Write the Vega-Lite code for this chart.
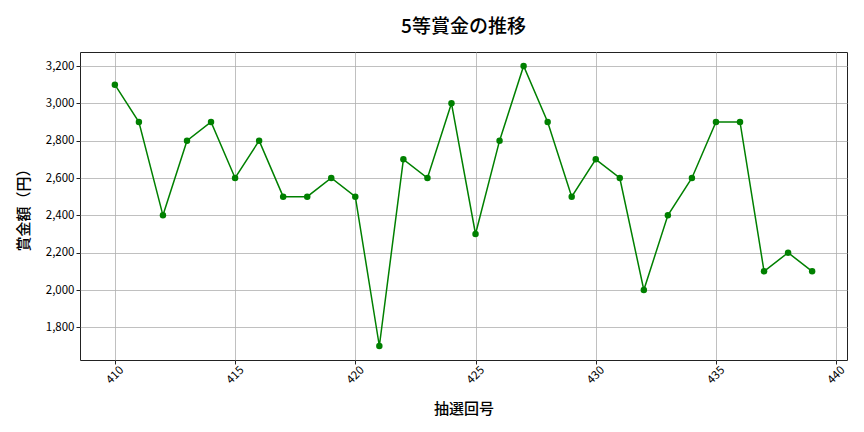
{
  "$schema": "https://vega.github.io/schema/vega-lite/v6.json",
  "description": "5等賞金の推移",
  "width": 767,
  "height": 308,
  "autosize": {"type": "none"},
  "padding": {"left": 80, "top": 52, "right": 17, "bottom": 72},
  "background": "white",
  "title": {
    "text": "5等賞金の推移",
    "fontSize": 19,
    "fontWeight": 500,
    "font": "Noto Sans CJK JP",
    "color": "#000000",
    "anchor": "middle",
    "offset": 15
  },
  "config": {
    "font": "Noto Sans CJK JP",
    "view": {"stroke": "#222222", "strokeWidth": 1},
    "axis": {
      "grid": true,
      "gridColor": "#b0b0b0",
      "gridWidth": 0.8,
      "domain": false,
      "tickColor": "#222222",
      "tickSize": 4,
      "labelFontSize": 11.5,
      "labelColor": "#000000",
      "titleFontSize": 15,
      "titleFontWeight": 500,
      "titleColor": "#000000"
    }
  },
  "data": {
    "values": [
      {"回号": 410, "賞金額": 3100},
      {"回号": 411, "賞金額": 2900},
      {"回号": 412, "賞金額": 2400},
      {"回号": 413, "賞金額": 2800},
      {"回号": 414, "賞金額": 2900},
      {"回号": 415, "賞金額": 2600},
      {"回号": 416, "賞金額": 2800},
      {"回号": 417, "賞金額": 2500},
      {"回号": 418, "賞金額": 2500},
      {"回号": 419, "賞金額": 2600},
      {"回号": 420, "賞金額": 2500},
      {"回号": 421, "賞金額": 1700},
      {"回号": 422, "賞金額": 2700},
      {"回号": 423, "賞金額": 2600},
      {"回号": 424, "賞金額": 3000},
      {"回号": 425, "賞金額": 2300},
      {"回号": 426, "賞金額": 2800},
      {"回号": 427, "賞金額": 3200},
      {"回号": 428, "賞金額": 2900},
      {"回号": 429, "賞金額": 2500},
      {"回号": 430, "賞金額": 2700},
      {"回号": 431, "賞金額": 2600},
      {"回号": 432, "賞金額": 2000},
      {"回号": 433, "賞金額": 2400},
      {"回号": 434, "賞金額": 2600},
      {"回号": 435, "賞金額": 2900},
      {"回号": 436, "賞金額": 2900},
      {"回号": 437, "賞金額": 2100},
      {"回号": 438, "賞金額": 2200},
      {"回号": 439, "賞金額": 2100}
    ]
  },
  "mark": {
    "type": "line",
    "color": "#008000",
    "strokeWidth": 1.5,
    "point": {"filled": true, "color": "#008000", "size": 42, "opacity": 1}
  },
  "encoding": {
    "x": {
      "field": "回号",
      "type": "quantitative",
      "scale": {"domain": [408.55, 440.45], "nice": false, "zero": false},
      "axis": {
        "title": "抽選回号",
        "values": [410, 415, 420, 425, 430, 435, 440],
        "format": "d",
        "labelAngle": -45,
        "labelAlign": "center",
        "labelBaseline": "middle",
        "labelPadding": 11,
        "titlePadding": 16
      }
    },
    "y": {
      "field": "賞金額",
      "type": "quantitative",
      "scale": {"domain": [1625, 3275], "nice": false, "zero": false},
      "axis": {
        "title": "賞金額（円）",
        "values": [1800, 2000, 2200, 2400, 2600, 2800, 3000, 3200],
        "format": ",d",
        "titlePadding": 14
      }
    }
  }
}
